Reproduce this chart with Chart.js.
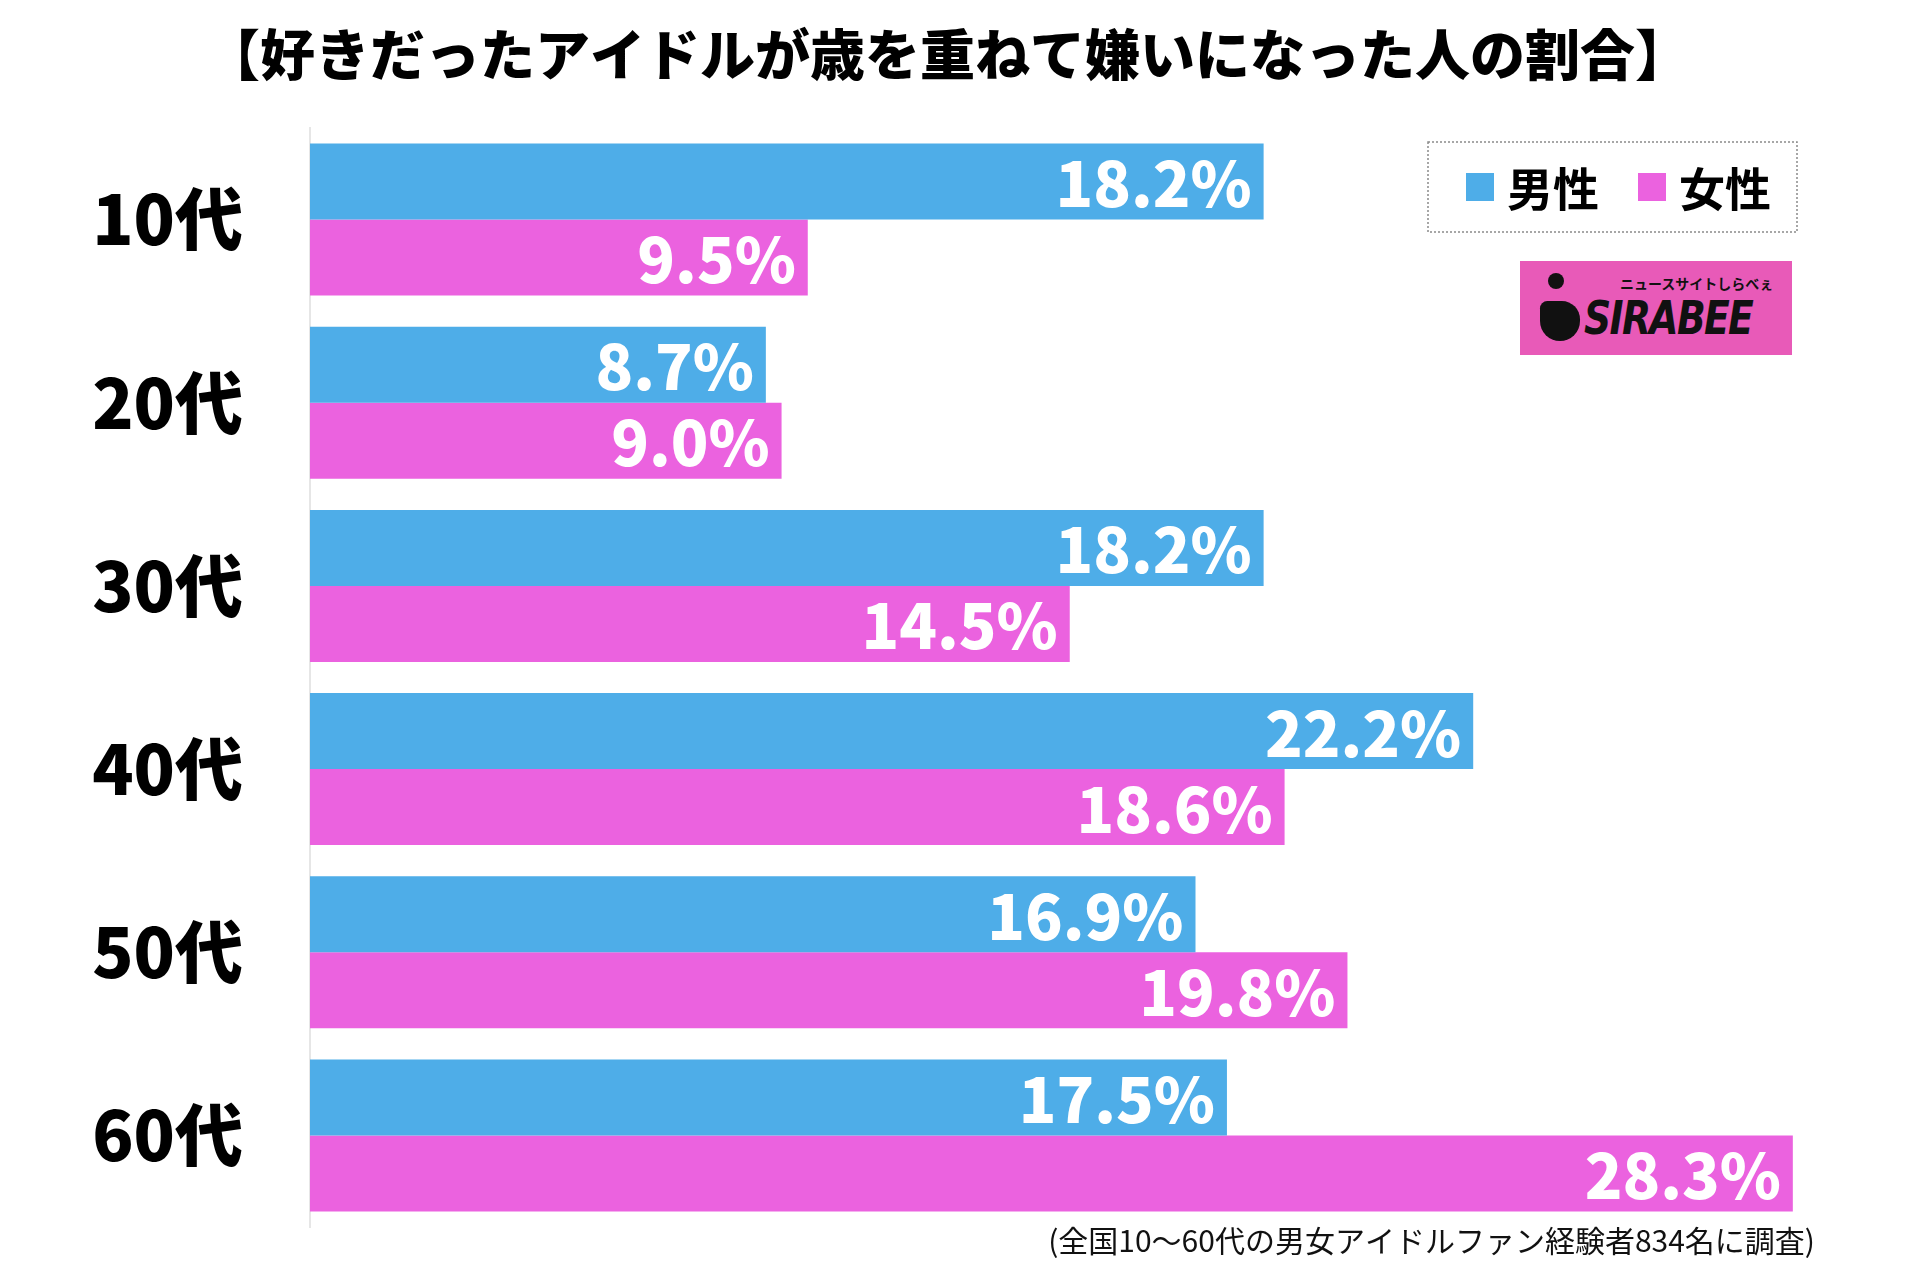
<!DOCTYPE html>
<html lang="ja">
<head>
<meta charset="utf-8">
<script src="https://cdn.jsdelivr.net/npm/chart.js@4.4.1/dist/chart.umd.min.js"></script>
<style>
  html, body { margin: 0; padding: 0; background: #fff; }
  #wrap { position: relative; width: 1923px; height: 1275px; }
  #logo {
    position: absolute; left: 1520px; top: 261px; width: 272px; height: 94px;
    background: #e85ab8; overflow: hidden;
  }
  #logo .dot { position: absolute; left: 28px; top: 12px; width: 16px; height: 16px; border-radius: 50%; background: #111; }
  #logo .body { position: absolute; left: 20px; top: 40px; width: 40px; height: 40px; border-radius: 8px 20px 22px 22px; background: #111; }
  #logo .name {
    position: absolute; left: 64px; top: 30px; font: italic 900 46px "DejaVu Sans", sans-serif;
    color: #111; letter-spacing: -2px; transform: scaleX(0.82); transform-origin: left top;
  }
  #logo .sub {
    position: absolute; left: 100px; top: 12px; font: bold 14px "Noto Sans CJK JP", sans-serif; color: #111;
    white-space: nowrap;
  }
</style>
</head>
<body>
<div id="wrap">
  <canvas id="chart" width="1923" height="1275"></canvas>
  <div id="logo"><div class="dot"></div><div class="body"></div><div class="sub">ニュースサイトしらべぇ</div><div class="name">SIRABEE</div></div>
</div>
<script>
// データ
const categories = ["10代", "20代", "30代", "40代", "50代", "60代"];
const seriesNames = ["男性", "女性"];
const maleValues = [18.2, 8.7, 18.2, 22.2, 16.9, 17.5];
const femaleValues = [9.5, 9.0, 14.5, 18.6, 19.8, 28.3];
const seriesColors = ["#4eade8", "#eb62df"];

const titleText = "【好きだったアイドルが歳を重ねて嫌いになった人の割合】";
const noteText = "(全国10〜60代の男女アイドルファン経験者834名に調査)";
const jpFont = '"Noto Sans CJK JP", "Noto Sans", sans-serif';

// バーの右端に数値を白字で描く
const valueLabels = {
  id: 'valueLabels',
  afterDatasetsDraw(chart) {
    const ctx = chart.ctx;
    ctx.save();
    ctx.fillStyle = '#fff';
    ctx.font = '900 62px ' + jpFont;
    ctx.textAlign = 'right';
    ctx.textBaseline = 'middle';
    chart.data.datasets.forEach((ds, di) => {
      chart.getDatasetMeta(di).data.forEach((bar, i) => {
        ctx.fillText(ds.data[i].toFixed(1) + '%', bar.x - 12, bar.y + 2);
      });
    });
    ctx.restore();
  }
};

// 点線の枠つき凡例
const boxLegend = {
  id: 'boxLegend',
  afterDraw(chart) {
    const ctx = chart.ctx;
    ctx.save();
    ctx.strokeStyle = '#8a8a8a';
    ctx.lineWidth = 1.5;
    ctx.setLineDash([2, 2]);
    ctx.strokeRect(1428, 142, 369, 90);
    ctx.setLineDash([]);
    ctx.font = 'bold 46px ' + jpFont;
    ctx.textBaseline = 'middle';
    const xs = [1466, 1638];
    chart.data.datasets.forEach((ds, i) => {
      ctx.fillStyle = ds.backgroundColor;
      ctx.fillRect(xs[i], 173, 28, 28);
      ctx.fillStyle = '#000';
      ctx.fillText(ds.label, xs[i] + 41, 189);
    });
    ctx.restore();
  }
};

// 注記
const footNote = {
  id: 'footNote',
  afterDraw(chart) {
    const ctx = chart.ctx;
    ctx.save();
    ctx.fillStyle = '#111';
    ctx.font = '30px ' + jpFont;
    ctx.textAlign = 'right';
    ctx.textBaseline = 'middle';
    ctx.fillText(noteText, 1815, 1241);
    ctx.restore();
  }
};

new Chart(document.getElementById('chart'), {
  type: 'bar',
  data: {
    labels: categories,
    datasets: [
      { label: seriesNames[0], data: maleValues, backgroundColor: seriesColors[0] },
      { label: seriesNames[1], data: femaleValues, backgroundColor: seriesColors[1] }
    ]
  },
  options: {
    indexAxis: 'y',
    responsive: false,
    animation: false,
    devicePixelRatio: 1,
    layout: { padding: { left: 0, right: 28, top: 0, bottom: 48 } },
    datasets: { bar: { barPercentage: 1.0, categoryPercentage: 0.83, borderWidth: 0 } },
    plugins: {
      legend: { display: false },
      tooltip: { enabled: false },
      title: {
        display: true,
        text: titleText,
        color: '#000',
        font: { family: jpFont, size: 55, weight: '900', lineHeight: 1.2 },
        padding: { top: 21, bottom: 41 }
      }
    },
    scales: {
      x: { display: false, min: 0, max: 30.25 },
      y: {
        afterFit(scale) {
          scale.width = 310;
          scale.paddingTop = 0;
          scale.paddingBottom = 0;
        },
        grid: { display: false, drawTicks: false },
        border: { display: true, color: '#e6e6e6', width: 2 },
        ticks: {
          color: '#000',
          padding: 67,
          font: { family: jpFont, size: 68, weight: '900' }
        }
      }
    }
  },
  plugins: [valueLabels, boxLegend, footNote]
});
</script>
</body>
</html>
